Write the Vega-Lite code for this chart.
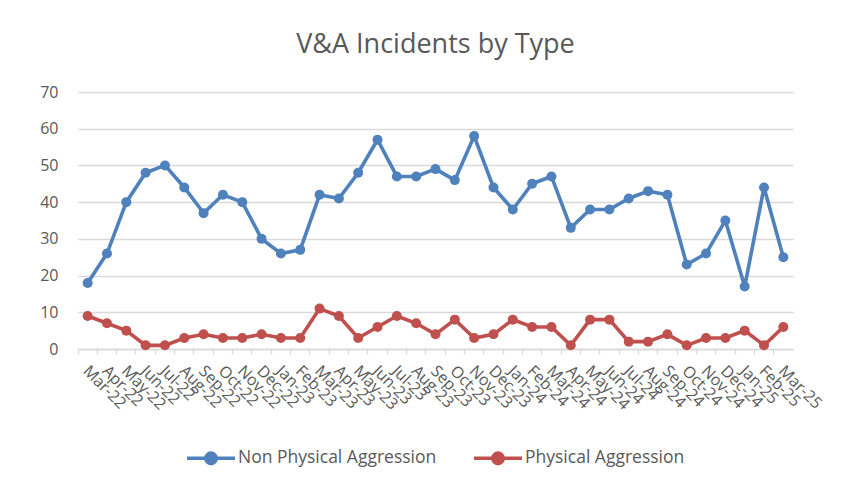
{
  "$schema": "https://vega.github.io/schema/vega-lite/v6.json",
  "width": 715,
  "height": 257,
  "autosize": {"type": "none"},
  "padding": {"left": 78, "top": 92, "right": 60, "bottom": 141},
  "background": "#ffffff",
  "title": {
    "text": "V&A Incidents by Type",
    "font": "Open Sans",
    "fontSize": 27,
    "fontWeight": "normal",
    "color": "#595959",
    "anchor": "middle",
    "offset": 25
  },
  "config": {
    "view": {"stroke": null},
    "font": "Open Sans"
  },
  "data": {
    "values": [
      {"month": "Mar-22", "series": "Non Physical Aggression", "value": 18},
      {"month": "Apr-22", "series": "Non Physical Aggression", "value": 26},
      {"month": "May-22", "series": "Non Physical Aggression", "value": 40},
      {"month": "Jun-22", "series": "Non Physical Aggression", "value": 48},
      {"month": "Jul-22", "series": "Non Physical Aggression", "value": 50},
      {"month": "Aug-22", "series": "Non Physical Aggression", "value": 44},
      {"month": "Sep-22", "series": "Non Physical Aggression", "value": 37},
      {"month": "Oct-22", "series": "Non Physical Aggression", "value": 42},
      {"month": "Nov-22", "series": "Non Physical Aggression", "value": 40},
      {"month": "Dec-22", "series": "Non Physical Aggression", "value": 30},
      {"month": "Jan-23", "series": "Non Physical Aggression", "value": 26},
      {"month": "Feb-23", "series": "Non Physical Aggression", "value": 27},
      {"month": "Mar-23", "series": "Non Physical Aggression", "value": 42},
      {"month": "Apr-23", "series": "Non Physical Aggression", "value": 41},
      {"month": "May-23", "series": "Non Physical Aggression", "value": 48},
      {"month": "Jun-23", "series": "Non Physical Aggression", "value": 57},
      {"month": "Jul-23", "series": "Non Physical Aggression", "value": 47},
      {"month": "Aug-23", "series": "Non Physical Aggression", "value": 47},
      {"month": "Sep-23", "series": "Non Physical Aggression", "value": 49},
      {"month": "Oct-23", "series": "Non Physical Aggression", "value": 46},
      {"month": "Nov-23", "series": "Non Physical Aggression", "value": 58},
      {"month": "Dec-23", "series": "Non Physical Aggression", "value": 44},
      {"month": "Jan-24", "series": "Non Physical Aggression", "value": 38},
      {"month": "Feb-24", "series": "Non Physical Aggression", "value": 45},
      {"month": "Mar-24", "series": "Non Physical Aggression", "value": 47},
      {"month": "Apr-24", "series": "Non Physical Aggression", "value": 33},
      {"month": "May-24", "series": "Non Physical Aggression", "value": 38},
      {"month": "Jun-24", "series": "Non Physical Aggression", "value": 38},
      {"month": "Jul-24", "series": "Non Physical Aggression", "value": 41},
      {"month": "Aug-24", "series": "Non Physical Aggression", "value": 43},
      {"month": "Sep-24", "series": "Non Physical Aggression", "value": 42},
      {"month": "Oct-24", "series": "Non Physical Aggression", "value": 23},
      {"month": "Nov-24", "series": "Non Physical Aggression", "value": 26},
      {"month": "Dec-24", "series": "Non Physical Aggression", "value": 35},
      {"month": "Jan-25", "series": "Non Physical Aggression", "value": 17},
      {"month": "Feb-25", "series": "Non Physical Aggression", "value": 44},
      {"month": "Mar-25", "series": "Non Physical Aggression", "value": 25},
      {"month": "Mar-22", "series": "Physical Aggression", "value": 9},
      {"month": "Apr-22", "series": "Physical Aggression", "value": 7},
      {"month": "May-22", "series": "Physical Aggression", "value": 5},
      {"month": "Jun-22", "series": "Physical Aggression", "value": 1},
      {"month": "Jul-22", "series": "Physical Aggression", "value": 1},
      {"month": "Aug-22", "series": "Physical Aggression", "value": 3},
      {"month": "Sep-22", "series": "Physical Aggression", "value": 4},
      {"month": "Oct-22", "series": "Physical Aggression", "value": 3},
      {"month": "Nov-22", "series": "Physical Aggression", "value": 3},
      {"month": "Dec-22", "series": "Physical Aggression", "value": 4},
      {"month": "Jan-23", "series": "Physical Aggression", "value": 3},
      {"month": "Feb-23", "series": "Physical Aggression", "value": 3},
      {"month": "Mar-23", "series": "Physical Aggression", "value": 11},
      {"month": "Apr-23", "series": "Physical Aggression", "value": 9},
      {"month": "May-23", "series": "Physical Aggression", "value": 3},
      {"month": "Jun-23", "series": "Physical Aggression", "value": 6},
      {"month": "Jul-23", "series": "Physical Aggression", "value": 9},
      {"month": "Aug-23", "series": "Physical Aggression", "value": 7},
      {"month": "Sep-23", "series": "Physical Aggression", "value": 4},
      {"month": "Oct-23", "series": "Physical Aggression", "value": 8},
      {"month": "Nov-23", "series": "Physical Aggression", "value": 3},
      {"month": "Dec-23", "series": "Physical Aggression", "value": 4},
      {"month": "Jan-24", "series": "Physical Aggression", "value": 8},
      {"month": "Feb-24", "series": "Physical Aggression", "value": 6},
      {"month": "Mar-24", "series": "Physical Aggression", "value": 6},
      {"month": "Apr-24", "series": "Physical Aggression", "value": 1},
      {"month": "May-24", "series": "Physical Aggression", "value": 8},
      {"month": "Jun-24", "series": "Physical Aggression", "value": 8},
      {"month": "Jul-24", "series": "Physical Aggression", "value": 2},
      {"month": "Aug-24", "series": "Physical Aggression", "value": 2},
      {"month": "Sep-24", "series": "Physical Aggression", "value": 4},
      {"month": "Oct-24", "series": "Physical Aggression", "value": 1},
      {"month": "Nov-24", "series": "Physical Aggression", "value": 3},
      {"month": "Dec-24", "series": "Physical Aggression", "value": 3},
      {"month": "Jan-25", "series": "Physical Aggression", "value": 5},
      {"month": "Feb-25", "series": "Physical Aggression", "value": 1},
      {"month": "Mar-25", "series": "Physical Aggression", "value": 6}
    ]
  },
  "encoding": {
    "x": {
      "field": "month",
      "type": "nominal",
      "sort": null,
      "bandPosition": 0.5,
      "scale": {"type": "band", "paddingInner": 0, "paddingOuter": 0},
      "axis": {
        "title": null,
        "bandPosition": 0,
        "labelAngle": 45,
        "labelAlign": "left",
        "labelBaseline": "middle",
        "labelFont": "Open Sans",
        "labelFontSize": 16,
        "labelColor": "#595959",
        "labelPadding": 14,
        "labelOverlap": false,
        "labelOffset": -2,
        "domainColor": "#d9d9d9",
        "domainWidth": 1.3,
        "tickColor": "#d9d9d9",
        "tickWidth": 1.3,
        "tickSize": 5,
        "grid": false
      }
    },
    "y": {
      "field": "value",
      "type": "quantitative",
      "scale": {"domain": [0, 70], "nice": false},
      "axis": {
        "title": null,
        "values": [0, 10, 20, 30, 40, 50, 60, 70],
        "domain": false,
        "ticks": false,
        "labelPadding": 20,
        "labelFont": "Open Sans",
        "labelFontSize": 16,
        "labelColor": "#595959",
        "gridColor": "#d9d9d9",
        "gridWidth": 1.3
      }
    },
    "color": {
      "field": "series",
      "type": "nominal",
      "scale": {
        "domain": ["Non Physical Aggression", "Physical Aggression"],
        "range": ["#4F81BD", "#C0504D"]
      },
      "legend": {
        "title": null,
        "orient": "none",
        "legendX": 107,
        "legendY": 340,
        "direction": "horizontal",
        "labelFont": "Open Sans",
        "labelFontSize": 17.5,
        "labelColor": "#595959",
        "labelLimit": 400,
        "columnPadding": 30,
        "labelOffset": 1,
        "symbolType": "M -1 0 L 1 0 M -0.22 0 A 0.22 0.22 0 1 0 0.22 0 A 0.22 0.22 0 1 0 -0.22 0 Z",
        "symbolSize": 2300,
        "symbolStrokeWidth": 3.5
      }
    }
  },
  "layer": [
    {
      "mark": {"type": "line", "strokeWidth": 3.6}
    },
    {
      "mark": {"type": "point", "filled": true, "size": 100, "opacity": 1}
    }
  ]
}
